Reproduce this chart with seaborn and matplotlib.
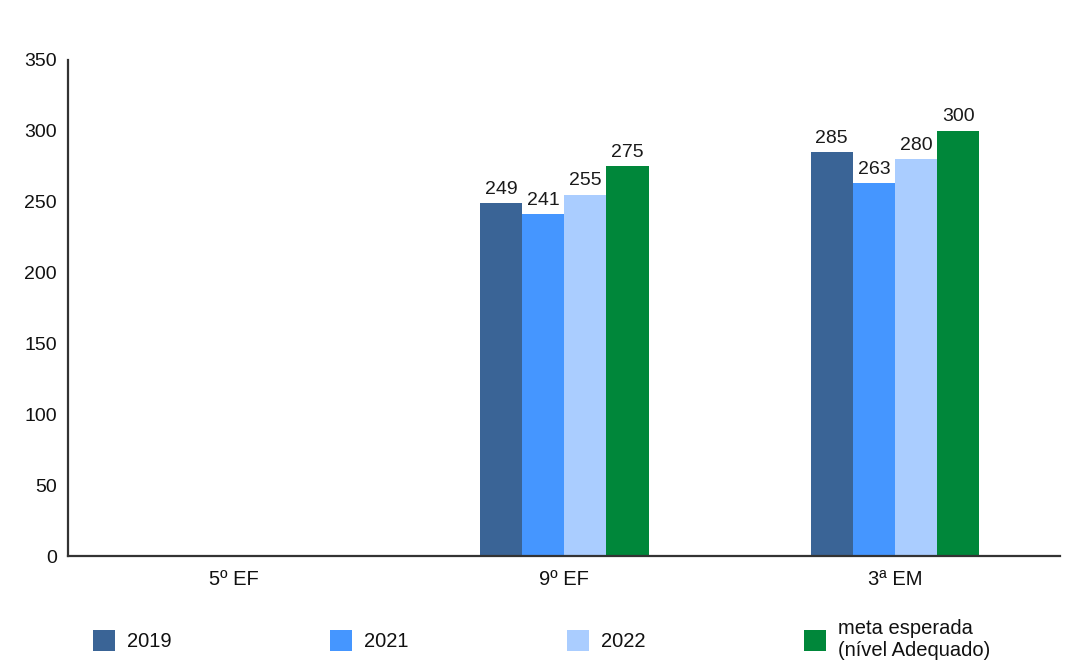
import matplotlib
matplotlib.use("Agg")
import matplotlib.pyplot as plt
from matplotlib.patches import Patch
from matplotlib.ticker import FixedLocator, NullFormatter
import seaborn as sns
import pandas as pd

# Proficiency scores by school stage and year
categories = ["5º EF", "9º EF", "3ª EM"]
series = ["2019", "2021", "2022", "meta esperada\n(nível Adequado)"]
values_9ef = [249, 241, 255, 275]
values_3em = [285, 263, 280, 300]
colors = ["#3A6496", "#4596FF", "#AACDFF", "#00873A"]
yticks = [0, 50, 100, 150, 200, 250, 300, 350]

rows = []
for s, v in zip(series, values_9ef):
    rows.append({"etapa": "9º EF", "serie": s, "valor": v})
for s, v in zip(series, values_3em):
    rows.append({"etapa": "3ª EM", "serie": s, "valor": v})
df = pd.DataFrame(rows)

sns.set_theme(style="white")
plt.rcParams["font.family"] = ["Liberation Sans", "DejaVu Sans"]

fig = plt.figure(figsize=(10.81, 6.66), dpi=100)
ax = fig.add_axes([0.063, 0.165, 0.918, 0.745])

sns.barplot(data=df, x="etapa", y="valor", hue="serie", order=categories,
            hue_order=series, palette=colors, width=0.51, gap=0,
            saturation=1, legend=False, ax=ax, linewidth=0)

for cont in ax.containers:
    ax.bar_label(cont, fmt="%d", padding=4, fontsize=14, color="#1a1a1a")

ax.set_ylim(0, 350)
ax.set_xlim(-0.5, 2.5)
ax.set_yticks(yticks)
ax.set_xlabel("")
ax.set_ylabel("")

for side in ["top", "right"]:
    ax.spines[side].set_visible(False)
for side in ["left", "bottom"]:
    ax.spines[side].set_color("#333333")
    ax.spines[side].set_linewidth(1.6)

ax.tick_params(axis="y", length=0, labelsize=14, pad=8, labelcolor="#111111")
ax.tick_params(axis="x", which="major", length=0, labelsize=14.5, pad=10,
               labelcolor="#111111")
ax.xaxis.set_minor_locator(FixedLocator([0.5, 1.5]))
ax.xaxis.set_minor_formatter(NullFormatter())
ax.tick_params(axis="x", which="minor", length=5, width=1.2,
               color="#333333", direction="out")

handles = [Patch(facecolor=c, edgecolor="none") for c in colors]
fig.legend(handles, series, loc="center left", bbox_to_anchor=(0.0694, 0.04),
           ncol=4, frameon=False, fontsize=14.5, handlelength=1.1,
           handleheight=1.23, handletextpad=0.6, columnspacing=7.85,
           labelcolor="#111111")

fig.savefig("out.png", dpi=100, facecolor="white")
